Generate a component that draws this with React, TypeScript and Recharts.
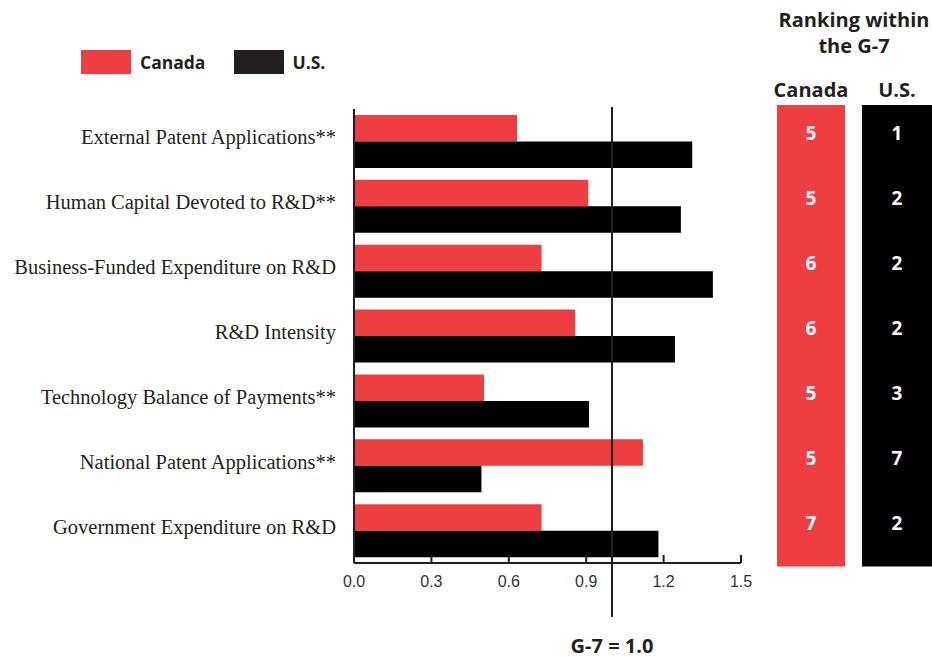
import React from 'react';
import { BarChart, Bar, XAxis, YAxis, ReferenceLine } from 'recharts';

const categories = [
  'External Patent Applications**',
  'Human Capital Devoted to R&D**',
  'Business-Funded Expenditure on R&D',
  'R&D Intensity',
  'Technology Balance of Payments**',
  'National Patent Applications**',
  'Government Expenditure on R&D',
];
const canadaValues = [0.632, 0.908, 0.727, 0.857, 0.504, 1.12, 0.727];
const usValues = [1.311, 1.267, 1.391, 1.244, 0.911, 0.494, 1.18];
const canadaRanks = [5, 5, 6, 6, 5, 5, 7];
const usRanks = [1, 2, 2, 2, 3, 7, 2];
const xTicks = [0, 0.3, 0.6, 0.9, 1.2, 1.5];
const seriesNames = ['Canada', 'U.S.'];

const RED = '#ef3e42';
const BLACK = '#000000';
const DARK = '#231f20';
const SANS_BOLD = '"Open Sans", "Noto Sans", sans-serif';

const data = categories.map((name, i) => ({
  name,
  canada: canadaValues[i],
  us: usValues[i],
  canadaRank: canadaRanks[i],
  usRank: usRanks[i],
}));

const BAND = 64.86;

const CategoryTick = (props: any) => {
  const { x, y, payload, index } = props;
  const i = payload.index ?? index;
  const last = i === data.length - 1;
  const top = i === 0 ? y - BAND / 2 - 4 : y - BAND / 2 - 1;
  const bottom = last ? y + BAND / 2 + 3.5 : y + BAND / 2 + 1;
  return (
    <g>
      <rect x={777} y={top} width={68} height={bottom - top} fill={RED} />
      <rect x={862} y={top} width={70} height={bottom - top} fill={BLACK} />
      <text
        x={x - 18}
        y={y - 4}
        textAnchor="end"
        dominantBaseline="central"
        fontFamily='"Liberation Serif", serif'
        fontSize={20.5}
        fill={DARK}
      >
        {payload.value}
      </text>
      <text
        x={811}
        y={y - 8}
        textAnchor="middle"
        dominantBaseline="central"
        fontFamily={SANS_BOLD}
        fontWeight={700}
        fontSize={19}
        fill="#ffffff"
      >
        {data[i].canadaRank}
      </text>
      <text
        x={897}
        y={y - 8}
        textAnchor="middle"
        dominantBaseline="central"
        fontFamily={SANS_BOLD}
        fontWeight={700}
        fontSize={19}
        fill="#ffffff"
      >
        {data[i].usRank}
      </text>
    </g>
  );
};

const ValueTick = (props: any) => {
  const { x, y, payload } = props;
  return (
    <g>
      <line x1={x} y1={y} x2={x} y2={y - 8} stroke={DARK} strokeWidth={2} />
      <text
        x={x}
        y={y + 18}
        textAnchor="middle"
        dominantBaseline="central"
        fontFamily='"Liberation Sans", Arial, sans-serif'
        fontSize={16}
        fill="#333333"
      >
        {Number(payload.value).toFixed(1)}
      </text>
    </g>
  );
};

const RefShape = (p: any) => {
  const x = p.x1;
  const yTop = Math.min(p.y1, p.y2);
  const yBot = Math.max(p.y1, p.y2);
  return (
    <g>
      <line x1={x} y1={yTop - 2} x2={x} y2={yBot + 54} stroke={DARK} strokeWidth={2} />
      <text
        x={x}
        y={yBot + 82}
        textAnchor="middle"
        dominantBaseline="central"
        fontFamily={SANS_BOLD}
        fontWeight={700}
        fontSize={20}
        fill={DARK}
      >
        G-7 = 1.0
      </text>
    </g>
  );
};

const headStyle: React.CSSProperties = {
  position: 'absolute',
  textAlign: 'center',
  fontFamily: SANS_BOLD,
  fontWeight: 700,
  fontSize: 20,
  color: DARK,
};

export default function App() {
  return (
    <div style={{ position: 'absolute', left: 0, top: 0, width: 932, height: 658, background: '#fff' }}>
      <BarChart
        width={932}
        height={658}
        data={data}
        layout="vertical"
        margin={{ top: 109, right: 191, bottom: 65, left: 0 }}
        barGap={0}
      >
        <XAxis
          type="number"
          domain={[0, 1.5]}
          ticks={xTicks}
          height={30}
          tickSize={0}
          tickMargin={0}
          tickLine={false}
          axisLine={{ stroke: DARK, strokeWidth: 2 }}
          tick={<ValueTick />}
          interval={0}
        />
        <YAxis
          type="category"
          dataKey="name"
          width={354}
          tickSize={0}
          tickMargin={0}
          tickLine={false}
          axisLine={{ stroke: DARK, strokeWidth: 2 }}
          tick={<CategoryTick />}
          interval={0}
        />
        <Bar dataKey="canada" name={seriesNames[0]} fill={RED} barSize={26.5} isAnimationActive={false} />
        <Bar dataKey="us" name={seriesNames[1]} fill={BLACK} barSize={26.5} isAnimationActive={false} />
        <ReferenceLine x={1} shape={<RefShape />} />
      </BarChart>
      <div
        style={{
          position: 'absolute',
          left: 81,
          top: 50,
          display: 'flex',
          alignItems: 'center',
          fontFamily: SANS_BOLD,
          fontWeight: 700,
          fontSize: 17.5,
          color: DARK,
        }}
      >
        <div style={{ width: 50, height: 24, background: RED }} />
        <span style={{ marginLeft: 9, marginRight: 29 }}>{seriesNames[0]}</span>
        <div style={{ width: 50, height: 24, background: DARK }} />
        <span style={{ marginLeft: 8 }}>{seriesNames[1]}</span>
      </div>
      <div style={{ ...headStyle, left: 774, top: 7, width: 160, lineHeight: '26px' }}>
        Ranking within
        <br />
        the G-7
      </div>
      <div style={{ ...headStyle, left: 770, top: 76, width: 82 }}>Canada</div>
      <div style={{ ...headStyle, left: 862, top: 76, width: 70 }}>U.S.</div>
    </div>
  );
}
